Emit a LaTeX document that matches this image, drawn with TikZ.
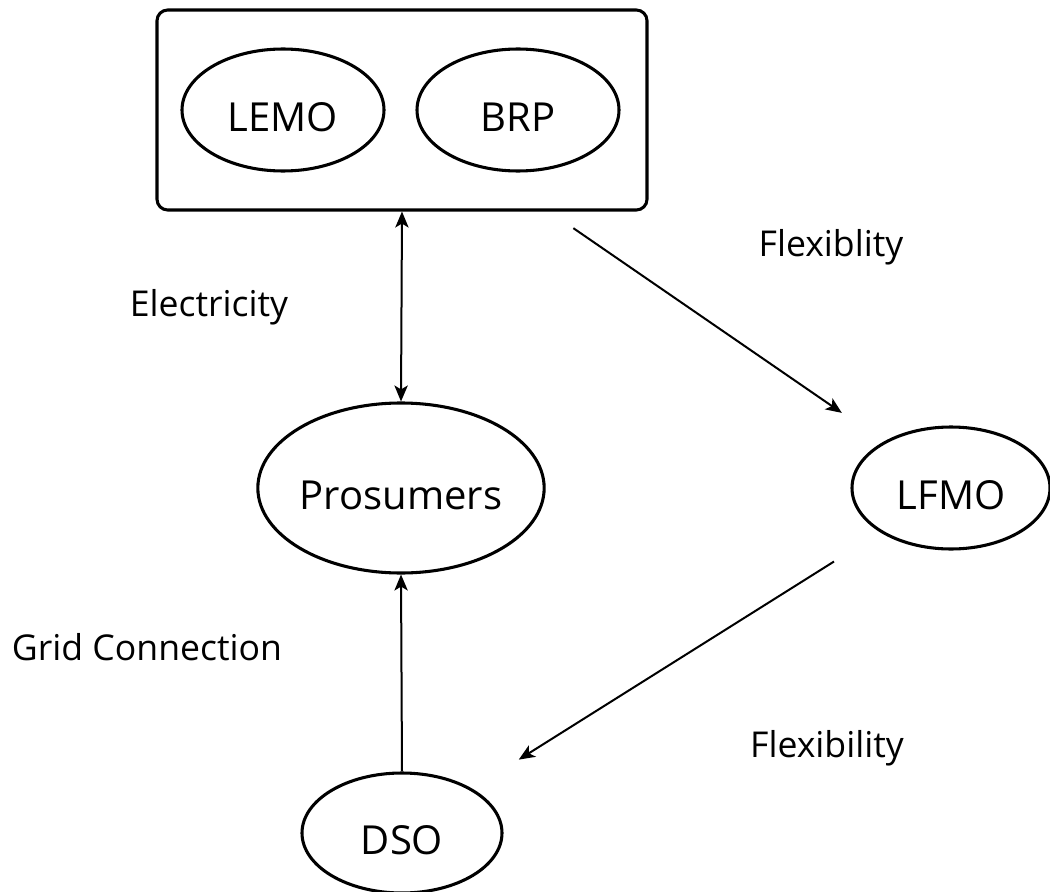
\documentclass[tikz,border=0pt]{standalone}
\usepackage{fontspec}
\setmainfont{Open Sans}
\usetikzlibrary{shapes.geometric,arrows.meta}

\tikzset{
  actor/.style={draw=black, line width=2.3pt, ellipse, inner sep=0pt,
    text height=32pt, text depth=0pt,
    font=\fontsize{30}{32}\selectfont},
  group/.style={draw=black, line width=2.3pt, rounded corners=8pt,
    inner sep=0pt, minimum width=367.5pt, minimum height=150pt},
  flow/.style={line width=1.5pt, -{Stealth[length=12pt,width=10pt,inset=3pt]}},
  lbl/.style={font=\fontsize{26.7}{29}\selectfont, inner sep=0pt}
}

\begin{document}
\begin{tikzpicture}[x=0.75pt, y=-0.75pt]
  \useasboundingbox (0,0) rectangle (1050,892);

  % market parties grouped in one box
  \node[group] (box) at (402,110) {};
  \node[actor, minimum width=151.5pt, minimum height=91.5pt] (lemo) at (283,110) {LEMO};
  \node[actor, minimum width=151.5pt, minimum height=91.5pt] (brp) at (518,110) {BRP};

  % the other actors
  \node[actor, minimum width=214.5pt, minimum height=127.5pt] (pros) at (401,488) {Prosumers};
  \node[actor, minimum width=148.5pt, minimum height=91.5pt] (lfmo) at (951,488) {LFMO};
  \node[actor, minimum width=150pt, minimum height=90pt] (dso) at (402,833) {DSO};

  % flows between the actors
  \draw[flow, {Stealth[length=12pt,width=10pt,inset=3pt]}-{Stealth[length=12pt,width=10pt,inset=3pt]}]
    (box.south) -- (pros.north);
  \draw[flow] (dso.north) -- (pros.south);
  \draw[flow, shorten <=22pt, shorten >=38pt] (box) -- (lfmo);
  \draw[flow, shorten <=41pt, shorten >=41pt] (lfmo) -- (dso);

  % flow labels
  \node[lbl] (l1) at (831,247) {Flexiblity};
  \node[lbl] (l2) at (209,307) {Electricity};
  \node[lbl] (l3) at (147,647) {Grid Connection};
  \node[lbl] (l4) at (827,748) {Flexibility};
\end{tikzpicture}
\end{document}
